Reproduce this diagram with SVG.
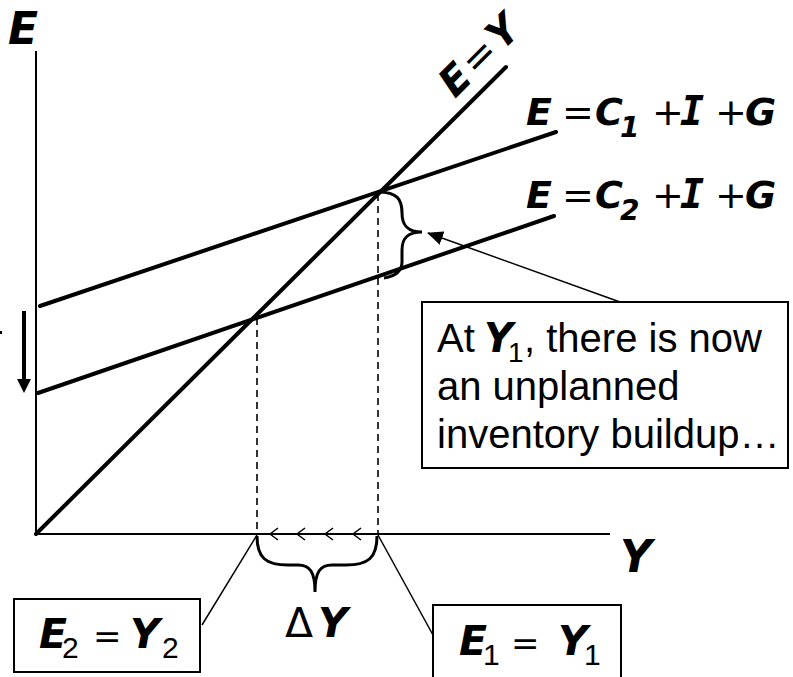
<svg xmlns="http://www.w3.org/2000/svg" width="793" height="677" viewBox="0 0 793 677">
<style>
.bi{font-family:"DejaVu Sans",Verdana,sans-serif;font-weight:bold;font-style:italic;fill:#000}
.bm{font-family:"DejaVu Sans Mono",monospace;font-weight:bold;font-style:italic;fill:#000}
.rg{font-family:"DejaVu Sans",Verdana,sans-serif;fill:#000}
.ar{font-family:"Liberation Sans",Arial,sans-serif;fill:#000}
.thick{stroke:#000;stroke-width:4;fill:none;stroke-linecap:round}
.axis{stroke:#000;stroke-width:2;fill:none}
.dash{stroke:#000;stroke-width:1.6;fill:none;stroke-dasharray:7,5}
.thin{stroke:#000;stroke-width:1.5;fill:none}
.brace{stroke:#000;stroke-width:3;fill:none}
.box{stroke:#000;stroke-width:2;fill:#fff}
</style>
<defs>
<marker id="ah" markerWidth="16" markerHeight="14" refX="15" refY="7" orient="auto" markerUnits="userSpaceOnUse">
<path d="M0,0 L16,7 L0,14 Z" fill="#000"/>
</marker>
</defs>
<rect width="793" height="677" fill="#fff"/>
<g id="connectors">
<line class="axis" x1="36" y1="51" x2="36" y2="535"/>
<line class="axis" x1="35" y1="534" x2="610" y2="534"/>
<line class="thick" x1="36" y1="534" x2="506" y2="67"/>
<line class="thick" x1="40" y1="306" x2="556" y2="132"/>
<line class="thick" x1="38" y1="393" x2="554" y2="216"/>
<line class="dash" x1="378" y1="194" x2="378" y2="534"/>
<line class="dash" x1="257" y1="318" x2="257" y2="534"/>
<path class="brace" d="M378,192 C398,192 402,200 402,213 C402,226 408,232 422,232 C408,232 402,238 402,250 L402,262 C402,271 396,276 384,278"/>
<path class="brace" d="M257,536 C257,558 266,565 288,565 L298,565 C310,565 315,572 315,592 C315,572 320,565 332,565 L346,565 C368,565 377,558 377,536"/>
<path class="thin" d="M278,528 L270,534 L278,540 M305,528 L297,534 L305,540 M333,528 L325,534 L333,540 M361,528 L353,534 L361,540"/>
<line class="thin" x1="620" y1="302" x2="428" y2="233" marker-end="url(#ah)"/>
<line class="thin" x1="257" y1="535" x2="202" y2="625"/>
<line class="thin" x1="378" y1="535" x2="433" y2="635"/>
<line stroke="#000" stroke-width="4" x1="24" y1="311" x2="24" y2="380"/>
<polygon points="17,379 31,379 24,393" fill="#000"/>
<rect x="0" y="331" width="2" height="3" fill="#000"/>
</g>
<g id="axis-labels">
<text class="bi" x="8" y="44" font-size="44">E</text>
<text class="bi" x="620" y="572" font-size="44">Y</text>
</g>
<g id="line-EY">
<text transform="rotate(-45 455 99)" x="455" y="99" font-size="40"><tspan class="bi">E</tspan><tspan class="rg" dx="3">=</tspan><tspan class="bi" dx="3">Y</tspan></text>
</g>
<g id="line-C1">
<text font-size="38" y="125"><tspan class="bi" x="526">E</tspan><tspan class="rg" x="562">=</tspan><tspan class="bi" x="595">C</tspan><tspan class="bi" x="620" y="137" font-size="28">1</tspan><tspan class="rg" x="652" y="125">+</tspan><tspan class="bm" x="680" font-size="40">I</tspan><tspan class="rg" x="715" y="125">+</tspan><tspan class="bi" x="745">G</tspan></text>
</g>
<g id="line-C2">
<text font-size="38" y="208"><tspan class="bi" x="526">E</tspan><tspan class="rg" x="562">=</tspan><tspan class="bi" x="595">C</tspan><tspan class="bi" x="620" y="220" font-size="28">2</tspan><tspan class="rg" x="652" y="208">+</tspan><tspan class="bm" x="680" font-size="40">I</tspan><tspan class="rg" x="715" y="208">+</tspan><tspan class="bi" x="745">G</tspan></text>
</g>
<g id="callout">
<rect class="box" x="422" y="302" width="366" height="166" stroke-width="1.5"/>
<text font-size="40" y="352"><tspan class="ar" x="437">At</tspan><tspan class="bi" x="484">Y</tspan><tspan class="ar" x="508" y="362" font-size="28">1</tspan><tspan class="ar" x="524" y="352">, there is now</tspan></text>
<text class="ar" font-size="40" x="437" y="400">an unplanned</text>
<text class="ar" font-size="40" x="437" y="448">inventory buildup…</text>
</g>
<g id="box-E2">
<rect class="box" x="14" y="599" width="186" height="73"/>
<text y="648" font-size="41"><tspan class="bi" x="39">E</tspan><tspan class="ar" x="62" y="658" font-size="30">2</tspan><tspan class="rg" x="93" y="648" font-size="34">=</tspan><tspan class="bi" x="130" font-size="41">Y</tspan><tspan class="ar" x="162" y="658" font-size="30">2</tspan></text>
</g>
<g id="delta-Y">
<text y="637" font-size="41"><tspan class="rg" x="285">Δ</tspan><tspan class="bi" x="318">Y</tspan></text>
</g>
<g id="box-E1">
<rect class="box" x="433" y="605" width="188" height="80"/>
<text y="655" font-size="41"><tspan class="bi" x="459">E</tspan><tspan class="ar" x="483" y="665" font-size="30">1</tspan><tspan class="rg" x="511" y="655" font-size="34">=</tspan><tspan class="bi" x="558" font-size="41">Y</tspan><tspan class="ar" x="584" y="665" font-size="30">1</tspan></text>
</g>
</svg>
